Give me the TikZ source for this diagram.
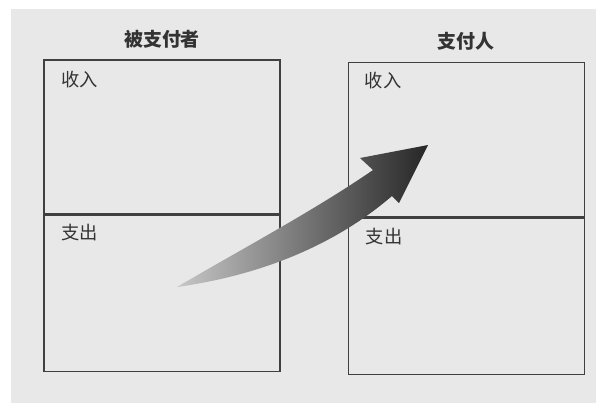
\documentclass[tikz,border=0pt]{standalone}
\usepackage{fontspec}
\newfontfamily\cjk{Noto Sans CJK SC}
\usetikzlibrary{positioning}

\begin{document}
\begin{tikzpicture}[x=0.025cm, y=-0.025cm,
    box/.style={draw=black!75, line width=0.9pt, minimum width=5.9cm, inner sep=0pt},
    lab/.style={font=\cjk\fontsize{13}{15}\selectfont, text=black!80, inner sep=0pt, anchor=north west},
    ttl/.style={font=\cjk\bfseries\fontsize{13.5}{16}\selectfont, text=black!80, inner sep=0pt}]
    \useasboundingbox (0,0) rectangle (596,403);
    \fill[black!9] (11,9) rectangle (596,403);

    % Boxes
    \node[box, minimum height=3.85cm] (payeein) at (162,137) {};
    \node[box, minimum height=3.9cm, below=0pt of payeein] (payeeout) {};
    \node[box, minimum height=3.85cm, right=1.675cm of payeein, yshift=-2pt] (payerin) {};
    \node[box, minimum height=3.9cm, below=0pt of payerin] (payerout) {};

    % Titles
    \node[ttl, above=0.26cm of payeein] (payee) {被支付者};
    \node[ttl, above=0.28cm of payerin] (payer) {支付人};

    % Labels
    \node[lab] (payeeinlab) at ([xshift=0.45cm, yshift=-0.28cm]payeein.north west) {收入};
    \node[lab] (payeeoutlab) at ([xshift=0.45cm, yshift=-0.23cm]payeeout.north west) {支出};
    \node[lab] (payerinlab) at ([xshift=0.42cm, yshift=-0.25cm]payerin.north west) {收入};
    \node[lab] (payeroutlab) at ([xshift=0.45cm, yshift=-0.25cm]payerout.north west) {支出};

    % Arrow
    \coordinate (tail) at (177,287);
    \coordinate (tip) at (428,145);
    \shade[left color=black!22, middle color=black!72, right color=black!85]
        (tail) .. controls (240,250) and (315,210) .. (373,170)
        -- (360,158) -- (tip) -- (399,203) -- (392,196)
        .. controls (335,245) and (262,275) .. (tail) -- cycle;
\end{tikzpicture}
\end{document}
